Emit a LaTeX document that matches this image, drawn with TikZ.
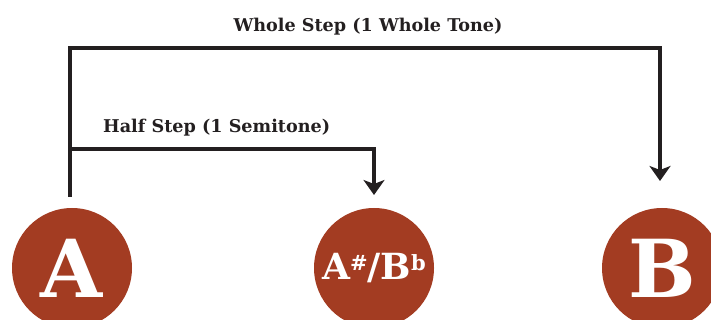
\documentclass[tikz,border=0pt]{standalone}
\usepackage{fontspec}
\setmainfont{DejaVu Serif}
\usetikzlibrary{arrows.meta}
\definecolor{rust}{HTML}{A33C22}
\definecolor{ink}{HTML}{231F20}
\tikzset{
  x=1pt, y=1pt,
  note/.style={circle, fill=rust, minimum size=120pt, inner sep=0pt,
    text=white, font=\bfseries},
  link/.style={draw=ink, line width=4.2pt,
    -{Stealth[length=15pt, width=21pt, inset=4pt]}},
  steplabel/.style={font=\bfseries\fontsize{17.6}{20}\selectfont, text=ink,
    inner sep=0pt}
}
\newcommand{\upmark}[1]{\raisebox{9pt}{\fontsize{21}{21}\selectfont #1}}
\begin{document}
\begin{tikzpicture}
  \useasboundingbox (0,0) rectangle (711,320);
  \clip (0,0) rectangle (711,320);

  % notes
  \node[note, font=\bfseries\fontsize{80}{80}\selectfont] (A) at (72,52) {A};
  \node[note, font=\bfseries\fontsize{36}{36}\selectfont] (AB) at (374,52)
    {A\upmark{\#}/B\upmark{b}};
  \node[note, font=\bfseries\fontsize{80}{80}\selectfont] (B) at (662,52) {B};

  % connector anchors
  \coordinate (start) at (70,123);
  \coordinate (split) at (70,171);
  \coordinate (top)   at (70,272);
  \coordinate (halfend) at (374,125);
  \coordinate (wholeend) at (660,139);

  % whole step
  \draw[link, line join=miter] (start) -- (top) -| (wholeend);
  % half step
  \draw[link, line join=miter] (split) -| (halfend);

  % labels
  \node[steplabel, anchor=base] (wl) at (368,288) {Whole Step (1 Whole Tone)};
  \node[steplabel, anchor=base west] (hl) at (103,187) {Half Step (1 Semitone)};
\end{tikzpicture}
\end{document}
